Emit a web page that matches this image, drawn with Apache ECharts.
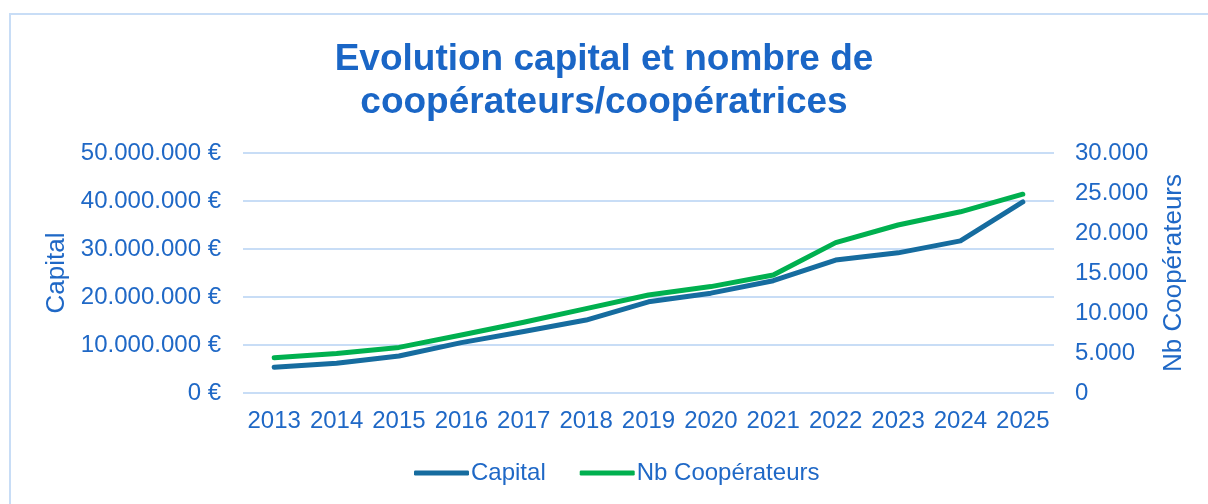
<!DOCTYPE html>
<html lang="fr">
<head>
    <meta charset="utf-8">
    <title>Capital</title>
    <script src="https://cdn.jsdelivr.net/npm/echarts@6/dist/echarts.min.js"></script>
    <style>
        html, body { margin: 0; padding: 0; background: #fff; }
    </style>
</head>
<body>

<div id="main" style="width:1208px;height:504px;"></div>

<script type="text/javascript">
    var years = ['2013','2014','2015','2016','2017','2018','2019','2020','2021','2022','2023','2024','2025'];
    var capital = [5350000, 6200000, 7700000, 10500000, 12800000, 15200000, 19000000, 20800000, 23400000, 27700000, 29200000, 31700000, 39800000];
    var cooperateurs = [4400, 4950, 5700, 7250, 8850, 10550, 12250, 13300, 14750, 18800, 21000, 22650, 24850];

    var textColor = '#1f68c6';
    var fontFam = '"Liberation Sans", Arial, sans-serif';

    function dots(v) {
        return String(v).replace(/\B(?=(\d{3})+(?!\d))/g, '.');
    }

    var myChart = echarts.init(document.getElementById('main'));

    var option = {
        backgroundColor: '#ffffff',
        textStyle: { fontFamily: fontFam, color: textColor },
        title: {
            text: 'Evolution capital et nombre de\ncoopérateurs/coopératrices',
            left: 'center',
            top: 38,
            padding: 0,
            textStyle: {
                color: '#1a66c6',
                fontSize: 37,
                fontWeight: 'bold',
                lineHeight: 43,
                fontFamily: fontFam
            }
        },
        graphic: [{
            type: 'rect',
            shape: { x: 10, y: 14, width: 1240, height: 540 },
            style: { fill: 'none', stroke: '#c8ddf6', lineWidth: 2 },
            silent: true
        }],
        legend: {
            bottom: 19,
            left: 414,
            padding: 0,
            itemWidth: 55,
            itemHeight: 5,
            itemGap: 34,
            icon: 'roundRect',
            textStyle: { color: textColor, fontSize: 24, padding: [0, 0, 0, -3] },
            data: ['Capital', 'Nb Coopérateurs']
        },
        grid: { left: 243, right: 154, top: 153, bottom: 111 },
        xAxis: {
            type: 'category',
            data: years,
            axisLine: { show: false },
            axisTick: { show: false },
            axisLabel: { color: textColor, fontSize: 24, margin: 16, interval: 0, hideOverlap: false }
        },
        yAxis: [{
            type: 'value',
            name: 'Capital',
            nameLocation: 'middle',
            nameGap: 170,
            nameTextStyle: { color: textColor, fontSize: 26 },
            min: 0, max: 50000000, interval: 10000000,
            axisLabel: {
                color: textColor, fontSize: 24, margin: 22,
                formatter: function (v) { return dots(v) + ' €'; }
            },
            splitLine: { lineStyle: { color: '#c8ddf6', width: 2 } }
        }, {
            type: 'value',
            name: 'Nb Coopérateurs',
            nameLocation: 'middle',
            nameGap: 107,
            nameTextStyle: { color: textColor, fontSize: 26 },
            min: 0, max: 30000, interval: 5000,
            axisLabel: {
                color: textColor, fontSize: 24, margin: 21,
                formatter: function (v) { return dots(v); }
            },
            splitLine: { show: false }
        }],
        series: [{
            name: 'Capital',
            type: 'line',
            yAxisIndex: 0,
            data: capital,
            symbol: 'none',
            color: '#166c9f',
            lineStyle: { width: 5, cap: 'round', join: 'round' }
        }, {
            name: 'Nb Coopérateurs',
            type: 'line',
            yAxisIndex: 1,
            data: cooperateurs,
            symbol: 'none',
            color: '#00b04f',
            lineStyle: { width: 5, cap: 'round', join: 'round' }
        }]
    };

    myChart.setOption(option);
</script>

</body>
</html>
